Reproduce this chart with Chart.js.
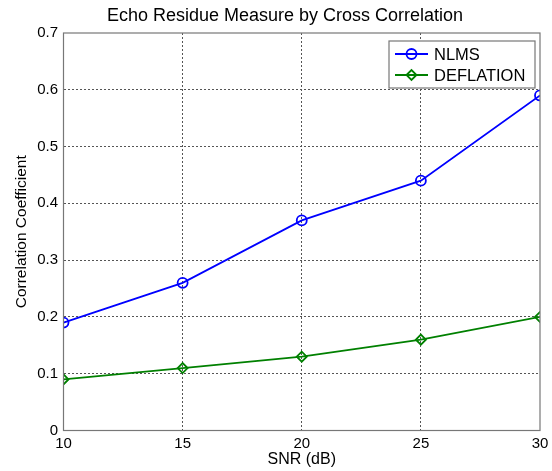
<!DOCTYPE html>
<html>
<head>
<meta charset="utf-8">
<script src="https://cdn.jsdelivr.net/npm/chart.js@4/dist/chart.umd.min.js"></script>
<style>
  body { margin: 0; background: #fff; }
  #wrap { width: 552px; height: 471px; }
</style>
</head>
<body>
<div id="wrap"><canvas id="myChart" width="552" height="471"></canvas></div>
<script>
// 1. DATA
const snrValues = [10, 15, 20, 25, 30];
const nlmsValues = [0.19, 0.26, 0.37, 0.44, 0.59];
const deflationValues = [0.09, 0.11, 0.13, 0.16, 0.20];
const seriesNames = ['NLMS', 'DEFLATION'];
const chartTitle = 'Echo Residue Measure by Cross Correlation';

const FONT = 'Arial, "Liberation Sans", sans-serif';
const BOX_COLOR = '#777777';
const GRID_COLOR = '#555555';

// turn the arrays into {x, y} points for the linear x axis
function toPoints(values) {
    return snrValues.map((x, i) => ({ x: x, y: values[i] }));
}

// 2. PLUGINS
// Title + MATLAB style box around the plot area
const axesBox = {
    id: 'axesBox',
    afterDatasetsDraw(chart) {
        const { ctx, chartArea: a } = chart;
        ctx.save();
        ctx.strokeStyle = BOX_COLOR;
        ctx.lineWidth = 1.2;
        ctx.strokeRect(a.left, a.top, a.right - a.left, a.bottom - a.top);

        // title sits centred a bit right of the canvas centre, like the reference
        ctx.fillStyle = '#000';
        ctx.font = '18px ' + FONT;
        ctx.textAlign = 'center';
        ctx.textBaseline = 'middle';
        ctx.fillText(chartTitle, 285, 16);
        ctx.restore();
    }
};

// Legend box at the top right, line + marker + label
const matlabLegend = {
    id: 'matlabLegend',
    afterDraw(chart) {
        const ctx = chart.ctx;
        const box = { left: 389, top: 41, right: 535, bottom: 88 };
        ctx.save();
        ctx.fillStyle = '#fff';
        ctx.fillRect(box.left, box.top, box.right - box.left, box.bottom - box.top);
        ctx.strokeStyle = BOX_COLOR;
        ctx.lineWidth = 1.2;
        ctx.strokeRect(box.left, box.top, box.right - box.left, box.bottom - box.top);

        chart.data.datasets.forEach((ds, i) => {
            const y = 54 + i * 21;
            ctx.strokeStyle = ds.borderColor;
            ctx.lineWidth = ds.borderWidth;
            ctx.beginPath();
            ctx.moveTo(395, y);
            ctx.lineTo(428, y);
            ctx.stroke();

            ctx.fillStyle = 'rgba(0,0,0,0)';
            ctx.strokeStyle = ds.pointBorderColor;
            ctx.lineWidth = ds.pointBorderWidth;
            Chart.helpers.drawPoint(ctx, {
                pointStyle: ds.pointStyle,
                radius: ds.pointRadius,
                borderWidth: ds.pointBorderWidth
            }, 411.5, y);

            ctx.fillStyle = '#000';
            ctx.font = '16.5px ' + FONT;
            ctx.textBaseline = 'middle';
            ctx.textAlign = 'left';
            ctx.fillText(ds.label, 434, y + 1);
        });
        ctx.restore();
    }
};

// 3. CHART
const ctx = document.getElementById('myChart').getContext('2d');

new Chart(ctx, {
    type: 'line',
    data: {
        datasets: [
            {
                label: seriesNames[0],
                data: toPoints(nlmsValues),
                borderColor: '#0000ff',
                backgroundColor: 'rgba(0,0,0,0)',
                borderWidth: 1.8,
                pointStyle: 'circle',
                pointRadius: 5,
                pointBorderWidth: 1.8,
                pointBorderColor: '#0000ff',
                pointBackgroundColor: 'rgba(0,0,0,0)'
            },
            {
                label: seriesNames[1],
                data: toPoints(deflationValues),
                borderColor: '#008000',
                backgroundColor: 'rgba(0,0,0,0)',
                borderWidth: 1.8,
                pointStyle: 'rectRot',
                pointRadius: 5,
                pointBorderWidth: 1.8,
                pointBorderColor: '#008000',
                pointBackgroundColor: 'rgba(0,0,0,0)'
            }
        ]
    },
    options: {
        responsive: false,
        animation: false,
        devicePixelRatio: 1,
        layout: { padding: { left: 0, right: 12, top: 33, bottom: 0 } },
        plugins: {
            legend: { display: false },
            tooltip: { enabled: false },
            title: { display: false }
        },
        scales: {
            x: {
                type: 'linear',
                min: 10,
                max: 30,
                border: { display: false, dash: [2, 2] },
                grid: {
                    color: (c) => (c.tick && (c.tick.value === 10 || c.tick.value === 30)) ? 'rgba(0,0,0,0)' : GRID_COLOR,
                    drawTicks: false,
                    lineWidth: 1
                },
                ticks: {
                    stepSize: 5,
                    color: '#000',
                    padding: 4,
                    maxRotation: 0,
                    font: { family: FONT, size: 15 }
                },
                title: {
                    display: true,
                    text: 'SNR (dB)',
                    color: '#000',
                    font: { family: FONT, size: 16 },
                    padding: { top: 0, bottom: 2 }
                },
                afterFit(scale) {
                    scale.height = 40.5;
                    scale.paddingLeft = 0;
                    scale.paddingRight = 0;
                }
            },
            y: {
                min: 0,
                max: 0.7,
                border: { display: false, dash: [2, 2] },
                grid: {
                    color: (c) => (c.tick && (c.tick.value <= 0.0001 || c.tick.value >= 0.6999)) ? 'rgba(0,0,0,0)' : GRID_COLOR,
                    drawTicks: false,
                    lineWidth: 1
                },
                ticks: {
                    stepSize: 0.1,
                    color: '#000',
                    padding: 5.5,
                    font: { family: FONT, size: 15 },
                    callback: (v) => (v === 0 ? '0' : v.toFixed(1))
                },
                title: {
                    display: true,
                    text: 'Correlation Coefficient',
                    color: '#000',
                    font: { family: FONT, size: 15.5 },
                    padding: { top: 12, bottom: 0 }
                },
                afterFit(scale) {
                    scale.width = 63.5;
                    scale.paddingTop = 0;
                    scale.paddingBottom = 0;
                }
            }
        }
    },
    plugins: [axesBox, matlabLegend]
});
</script>
</body>
</html>
